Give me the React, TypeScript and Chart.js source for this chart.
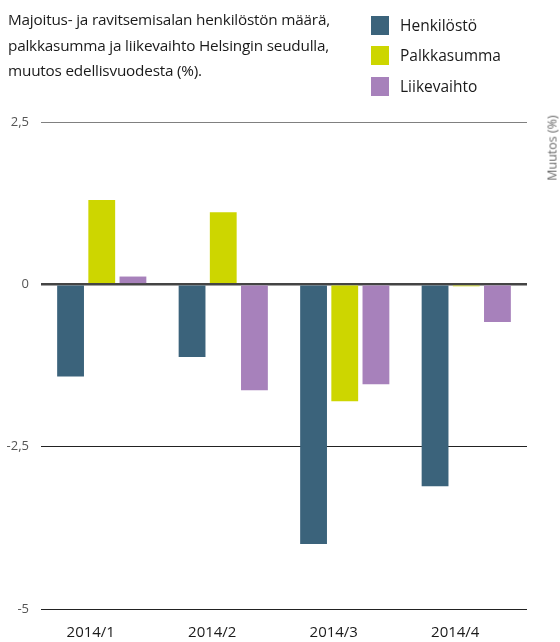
import React, { useEffect, useRef } from "react";
import { Chart, registerables } from "chart.js";

Chart.register(...registerables);

const categories = ["2014/1", "2014/2", "2014/3", "2014/4"];
const henkilosto = [-1.42, -1.12, -4.0, -3.11];
const palkkasumma = [1.3, 1.11, -1.8, -0.03];
const liikevaihto = [0.12, -1.63, -1.54, -0.58];
const seriesNames = ["Henkilöstö", "Palkkasumma", "Liikevaihto"];
const seriesColors = ["#3b637b", "#cdd600", "#a781bb"];
const yTicks = [2.5, 0, -2.5, -5];
const titleLines = [
  "Majoitus- ja ravitsemisalan henkilöstön määrä,",
  "palkkasumma ja liikevaihto Helsingin seudulla,",
  "muutos edellisvuodesta (%).",
];
const axisTitle = "Muutos (%)";

const FONT = "'Open Sans', 'Noto Sans', sans-serif";

export default function App() {
  const ref = useRef<HTMLCanvasElement | null>(null);
  useEffect(() => {
    if (!ref.current) return;
    const values = [henkilosto, palkkasumma, liikevaihto];
    const chart = new Chart(ref.current, {
      type: "bar",
      data: {
        labels: categories,
        datasets: seriesNames.map((n, i) => ({
          label: n,
          data: values[i],
          backgroundColor: seriesColors[i],
          borderWidth: 0,
          categoryPercentage: 0.77,
          barPercentage: 0.86,
        })),
      },
      options: {
        animation: false,
        responsive: false,
        maintainAspectRatio: false,
        layout: { padding: { top: 122, right: 33, bottom: 0, left: 0 } },
        plugins: { legend: { display: false }, tooltip: { enabled: false }, title: { display: false } },
        scales: {
          x: {
            grid: { display: false, drawTicks: false },
            border: { display: false },
            ticks: {
              color: "#1a1a1a",
              font: { family: FONT, size: 15 },
              padding: 15,
              labelOffset: -11,
              maxRotation: 0,
            },
            afterFit: (axis: any) => {
              axis.height = 33;
            },
          },
          y: {
            min: -5,
            max: 2.5,
            z: 1,
            afterBuildTicks: (axis: any) => {
              axis.ticks = yTicks.map((v) => ({ value: v }));
            },
            afterFit: (axis: any) => {
              axis.width = 41;
            },
            border: { display: false },
            grid: {
              drawTicks: false,
              tickLength: 0,
              color: (ctx: any) => {
                const v = ctx.tick && ctx.tick.value;
                if (v === 0) return "#444";
                if (v === 2.5) return "#808080";
                return "#222";
              },
              lineWidth: (ctx: any) => (ctx.tick && ctx.tick.value === 0 ? 2.5 : 1),
            },
            ticks: {
              color: "#555",
              font: { family: FONT, size: 13 },
              padding: 12,
              callback: (v: any) => String(v).replace(".", ","),
            },
          },
        },
      },
    });
    return () => chart.destroy();
  }, []);

  return (
    <div style={{ position: "fixed", left: 0, top: 0, width: 560, height: 642, background: "#fff", fontFamily: FONT }}>
      <canvas ref={ref} width={560} height={642} style={{ position: "absolute", left: 0, top: 0 }} />
      <div style={{ position: "absolute", left: 8, top: 7, fontSize: 15.3, lineHeight: "25.5px", color: "#1a1a1a", letterSpacing: -0.2 }}>
        {titleLines.map((l, i) => (
          <div key={i}>{l}</div>
        ))}
      </div>
      <div style={{ position: "absolute", left: 371, top: 10 }}>
        {seriesNames.map((n, i) => (
          <div key={n} style={{ display: "flex", alignItems: "center", height: 30.5 }}>
            <div style={{ width: 18, height: 19, background: seriesColors[i], marginRight: 11, flexShrink: 0 }} />
            <div style={{ fontSize: 15.5, lineHeight: "19px", color: "#1a1a1a" }}>{n}</div>
          </div>
        ))}
      </div>
      <div
        style={{
          position: "absolute",
          left: 552,
          top: 148,
          transform: "translate(-50%, -50%) rotate(-90deg)",
          whiteSpace: "nowrap",
          fontSize: 12.5,
          color: "#666",
        }}
      >
        {axisTitle}
      </div>
    </div>
  );
}
